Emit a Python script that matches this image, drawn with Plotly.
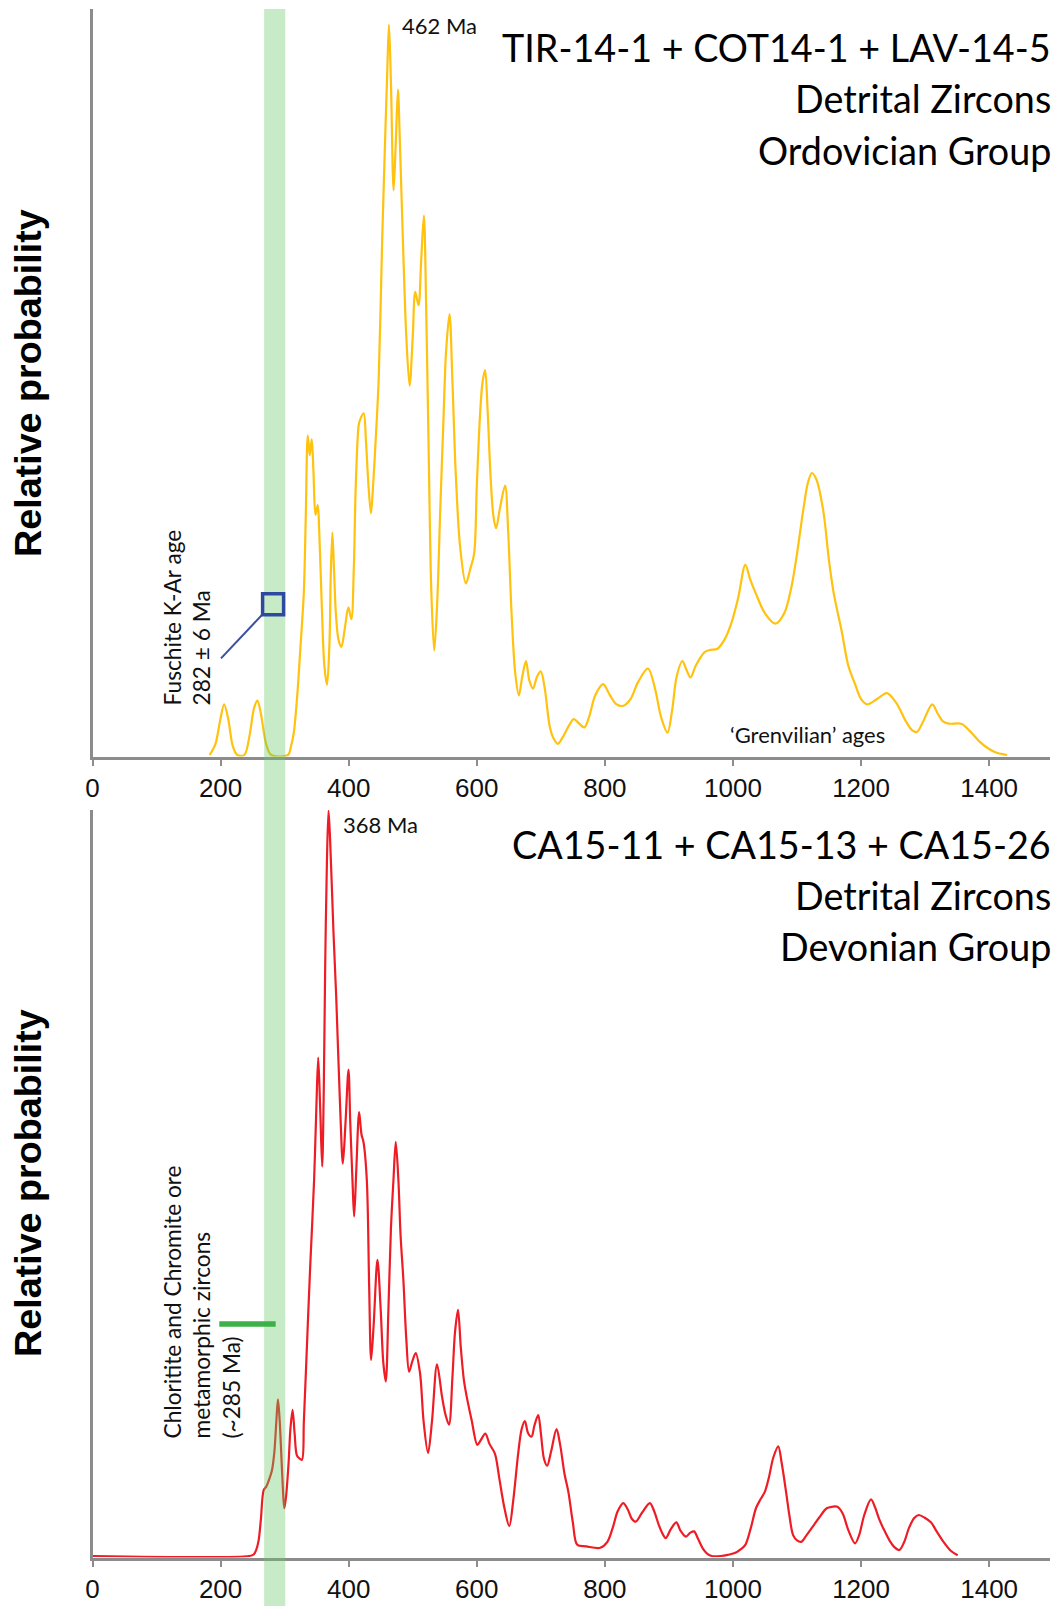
import plotly.graph_objects as go

# ---------------- data ----------------
# Ordovician Group detrital zircons: relative probability curve (age in Ma, height 0-100)
ord_age = [183, 192, 199, 205.5, 212, 219, 226, 237, 245, 252, 257.5, 263, 271, 279, 305,
           310, 314.3, 319.5, 324.7, 329.9, 333, 336.1, 339.2, 342.3, 345, 348.1, 351.7, 354,
           358, 362, 366.2, 370, 372, 374.5, 377, 380, 384, 388.6, 394, 399.5, 404.2, 408, 411,
           415.6, 418, 423.4, 427, 431, 434.8, 438, 442, 446.8, 452, 456, 460, 462.9, 466, 470.1,
           473.5, 476.9, 480, 485, 490, 495.1, 500, 503.9, 509.1, 513, 517.4, 521, 525, 529,
           533.5, 538, 543, 548, 552, 557.4, 562, 567, 574, 582.9, 590, 595.9, 600, 605.2, 609,
           613, 617, 621.8, 626, 630.1, 636, 644.2, 649, 654.3, 660, 665.7, 671, 676.8, 682,
           687.8, 694, 700, 706, 714, 720, 726.5, 735, 743, 751.4, 760, 768, 775, 785, 797.2,
           808, 818, 828.7, 840, 852, 867.4, 878, 888, 897.8, 905, 912, 921, 927, 933.7, 942,
           955.8, 965, 975.1, 987, 997.2, 1008, 1019.3, 1027, 1035.9, 1050, 1066.3, 1080, 1091.2,
           1100, 1110, 1117, 1123.2, 1130, 1140.9, 1150, 1157.5, 1170, 1180, 1190.6, 1200, 1210,
           1225, 1240.3, 1255, 1270, 1280, 1287.3, 1297, 1311.1, 1320, 1328, 1337, 1356.4, 1370,
           1385, 1400, 1411.6, 1428]
ord_prob = [0, 1.5, 4.5, 6.8, 4.8, 1.2, 0, 0, 2.5, 6.2, 7.3, 5.5, 1.5, 0, 0,
            1.2, 3, 7.8, 14.5, 21.7, 32, 42.8, 40.2, 42.3, 38, 32.2, 33.5, 30,
            20, 12, 9.4, 15, 24, 29.8, 25, 19, 15.5, 14.5, 17, 19.8, 18.2, 25, 36,
            44.2, 45, 45.8, 42, 36, 32.4, 36, 42, 50.3, 68, 80, 91, 97.9, 90, 75.7,
            82, 89.2, 82, 68, 56, 49.5, 56, 62.1, 60.3, 66, 72.3, 60, 40, 22,
            14.0, 20, 33, 45, 54, 59.1, 50, 38, 27.9, 23.0, 25, 27.0, 36, 45.8, 50,
            51.6, 46, 36.9, 32, 30.4, 33, 36.1, 30, 19.0, 11, 8.0, 10.5, 12.6, 10,
            8.9, 10.5, 11.2, 9, 3.8, 2.2, 1.5, 2.5, 3.8, 4.8, 4.2, 3.7, 5, 8, 9.5,
            8, 6.8, 6.6, 7.5, 9.8, 11.6, 9, 5, 3.0, 6, 10.5, 12.6, 11.5, 10.4, 12,
            13.8, 14.1, 14.2, 15.5, 17.6, 21, 25.5, 23.5, 21.6, 19, 17.6, 19, 22.5,
            27, 33, 36.5, 37.8, 37, 32.8, 26, 21.6, 16.5, 12, 9.5, 7.5, 6.8,
            7.5, 8.3, 7, 4.5, 3.3, 3.1, 4.5, 6.8, 5.5, 4.5, 4.2, 4.2, 3.2,
            1.8, 0.8, 0.3, 0]

# Devonian Group detrital zircons
dev_age = [0, 245, 251.6, 255.5, 259.4, 263, 267.2, 271.3, 276, 280.2, 284, 287, 289.5, 292,
           294.2, 297, 299.4, 302, 306.1, 309, 312.4, 315.5, 319.1, 322.8, 327, 330, 335.8,
           339.9, 346, 349.5, 352.4, 355.5, 358.6, 361, 363.3, 366, 368.5, 371, 376.3, 380.5,
           386.7, 390.9, 395, 399.7, 402.5, 405.9, 408.5, 412, 416.3, 420, 423.1, 428.3, 432,
           435, 439, 444.9, 450, 454, 457.9, 462, 466, 469.9, 473.5, 477.6, 481, 485.4, 490,
           494.3, 499, 504.7, 511.4, 517, 523.9, 530, 537.9, 545.7, 551, 556.6, 562, 566,
           570.7, 575, 580, 584.2, 592, 600.8, 606, 613.3, 620, 628.4, 635, 643, 650.7, 657,
           664.7, 670, 675.1, 680, 685.5, 690, 695.9, 700, 705, 709.9, 716, 724.5, 730, 737,
           743, 750, 756.9, 770.7, 792.8, 803.9, 812, 820, 828.7, 836, 842, 848.1, 858, 870.2,
           877, 884, 890, 895, 903, 911.6, 918, 926.5, 933, 939.2, 946, 953, 960, 966.9, 980.7,
           992, 1002.8, 1012, 1019.3, 1028, 1035.9, 1043, 1049.7, 1056, 1063, 1070.7, 1076,
           1082.9, 1088, 1093.9, 1100, 1106.6, 1115, 1124.3, 1135, 1146.4, 1155, 1163, 1171.3,
           1180, 1190.6, 1197, 1205, 1215.5, 1222, 1228, 1234.8, 1245, 1252, 1259.7, 1267,
           1275, 1283, 1290.1, 1300, 1309.4, 1318, 1328.7, 1340, 1350.9]
dev_prob = [0, 0, 0.2, 0.8, 2.1, 5, 8.8, 9.3, 10.3, 11.5, 14, 18, 21.0, 18.5,
            14.7, 9.5, 6.4, 7.8, 12.4, 17, 19.6, 16.5, 13.5, 13.1, 12.9, 18, 30.3,
            38.8, 50.4, 60, 66.8, 60, 52.2, 62, 79, 93, 99.9, 96, 83.5, 75,
            60, 52.6, 58, 65.2, 58, 50.4, 45.5, 52, 59.5, 56.5, 55.5, 50.4, 36,
            26.3, 31, 39.7, 33, 26, 23.4, 33, 44, 50.4, 55.5, 50.4, 43, 37, 29,
            24.7, 26, 27.2, 24.5, 18, 13.8, 18, 25.7, 21.4, 19, 17.6, 24, 30,
            33.0, 28, 23.5, 21.4, 18.2, 14.9, 15.5, 16.4, 15, 13.7, 10.5, 6.5, 4.0, 7.5,
            13.8, 17, 18.1, 16.5, 16.0, 17.5, 18.9, 16.5, 13, 12.1, 14, 17.0, 15, 11,
            8.6, 4.5, 1.5, 1.3, 1.1, 1.9, 3.7, 6, 7.1, 6.2, 5, 4.6, 5.8, 7.1,
            6, 4.2, 3, 2.4, 3.6, 4.5, 3.4, 2.6, 3.1, 3.3, 2.2, 1.0, 0.3, 0, 0,
            0.15, 0.4, 0.9, 1.5, 3.8, 6.4, 7.6, 8.6, 10.5, 13.2, 14.7, 12.5,
            8.6, 5.5, 2.8, 2.1, 1.9, 2.8, 3.9, 5.2, 6.4, 6.6, 6.6, 5.7,
            3.5, 1.7, 2.8, 5.5, 7.6, 6.5, 5, 3.7, 2, 1.2, 0.8, 1.8,
            3.8, 5.1, 5.5, 5.1, 4.5, 3.3, 1.9, 0.7, 0.1]

tick_vals = [0, 200, 400, 600, 800, 1000, 1200, 1400]
tick_labels = ["0", "200", "400", "600", "800", "1000", "1200", "1400"]

# Age markers
band_range = [268, 301]          # shaded age band (Ma)
fuschite_age = 282               # Fuschite K-Ar age (Ma)
fuschite_level = 20.2
ord_peak = 462
dev_peak = 368
metamorphic_bar = [198, 286]     # Chloritite/Chromite metamorphic zircons
metamorphic_level = 31.1

# ---------------- figure ----------------
W, H = 1057, 1606
AXIS_GREY = "#8c8c8c"
SANS = "Lato, 'Open Sans', sans-serif"
ARIAL = "'Liberation Sans', Arial, sans-serif"


def px_x(x):
    return x / W


def px_y(y):
    return 1 - y / H


fig = go.Figure()
fig.add_trace(go.Scatter(x=ord_age, y=ord_prob, mode="lines",
                         line=dict(color="#FFC20E", width=2.2, shape="spline", smoothing=0.9),
                         xaxis="x", yaxis="y", hoverinfo="skip"))
fig.add_trace(go.Scatter(x=dev_age, y=dev_prob, mode="lines",
                         line=dict(color="#EE1C25", width=2.2, shape="spline", smoothing=0.9),
                         xaxis="x2", yaxis="y2", hoverinfo="skip"))

x_domain = [px_x(92.5), px_x(1050)]
common_x = dict(range=[0, 1495], domain=x_domain, showline=True, linecolor=AXIS_GREY,
                linewidth=2.5, ticks="outside", ticklen=7, tickwidth=2, tickcolor=AXIS_GREY,
                tickvals=tick_vals, ticktext=tick_labels, showgrid=False, zeroline=False,
                tickfont=dict(family=ARIAL, size=26, color="#111111"), ticklabelstandoff=0,
                automargin=False, fixedrange=True)
common_y = dict(range=[-0.2, 100], showline=True, linecolor=AXIS_GREY, linewidth=2.5,
                showticklabels=False, ticks="", showgrid=False, zeroline=False,
                automargin=False, fixedrange=True)

fig.update_layout(
    width=W, height=H,
    margin=dict(l=0, r=0, t=0, b=0, autoexpand=False),
    paper_bgcolor="white", plot_bgcolor="white",
    showlegend=False,
    xaxis=dict(anchor="y", **common_x),
    yaxis=dict(anchor="x", domain=[px_y(756.5), px_y(9)], **common_y),
    xaxis2=dict(anchor="y2", **common_x),
    yaxis2=dict(anchor="x2", domain=[px_y(1557.5), px_y(810)], **common_y),
)

shapes = [
    # shaded band crossing both panels
    dict(type="rect", xref="x", yref="paper", x0=band_range[0], x1=band_range[1],
         y0=0, y1=px_y(9), fillcolor="rgba(100,200,100,0.37)", line=dict(width=0),
         layer="above"),
    # leader line to the Fuschite age marker
    dict(type="line", xref="x", yref="y", x0=200.6, y0=12.96, x1=267, y1=19.0,
         line=dict(color="#3A4FA0", width=2), layer="above"),
    # Fuschite K-Ar age marker
    dict(type="rect", xref="x", yref="y", xsizemode="pixel", ysizemode="pixel",
         xanchor=fuschite_age, yanchor=fuschite_level, x0=-10.5, x1=10.5, y0=-10.5, y1=10.5,
         line=dict(color="#2E4A9E", width=3.5), fillcolor="rgba(0,0,0,0)", layer="above"),
    # metamorphic zircon age bar
    dict(type="line", xref="x2", yref="y2", x0=metamorphic_bar[0], x1=metamorphic_bar[1],
         y0=metamorphic_level, y1=metamorphic_level,
         line=dict(color="#3DB049", width=5.5), layer="above"),
]
fig.update_layout(shapes=shapes)

annotations = []
# y-axis titles
for yc in (383, 1183):
    annotations.append(dict(text="Relative probability", xref="paper", yref="paper",
                            x=px_x(28), y=px_y(yc), xanchor="center", yanchor="middle",
                            textangle=-90, showarrow=False,
                            font=dict(family=ARIAL, size=37.7, color="black", weight="bold")))

# panel titles
title_font = dict(family=SANS, size=37.7, color="black")
for text, yc in [("TIR-14-1 + COT14-1 + LAV-14-5", 47.5), ("Detrital Zircons", 98.5),
                 ("Ordovician Group", 150.5), ("CA15-11 + CA15-13 + CA15-26", 844),
                 ("Detrital Zircons", 895), ("Devonian Group", 946)]:
    annotations.append(dict(text=text, xref="paper", yref="paper", x=px_x(1053),
                            y=px_y(yc), xanchor="right", yanchor="middle",
                            showarrow=False, font=title_font))

small_font = dict(family=SANS, size=22, color="#111111")
rot_font = dict(family=SANS, size=22.7, color="#111111")
annotations += [
    dict(text=f"{ord_peak} Ma", xref="x", yref="y", x=480, y=97.85, xanchor="left",
         yanchor="middle", showarrow=False, font=small_font),
    dict(text=f"{dev_peak} Ma", xref="x2", yref="y2", x=388, y=98.05, xanchor="left",
         yanchor="middle", showarrow=False, font=small_font),
    dict(text="‘Grenvilian’ ages", xref="x", yref="y", x=1115.6, y=2.7, xanchor="center",
         yanchor="middle", showarrow=False, font=small_font),
    dict(text=f"Fuschite K-Ar age<br>{fuschite_age} ± 6 Ma", xref="paper", yref="paper",
         x=px_x(186.5), y=px_y(708), xanchor="center", yanchor="bottom", textangle=-90,
         align="left", showarrow=False, font=rot_font),
    dict(text="Chloritite and Chromite ore<br>metamorphic zircons<br>(~285 Ma)",
         xref="paper", yref="paper", x=px_x(201), y=px_y(1441), xanchor="center",
         yanchor="bottom", textangle=-90, align="left", showarrow=False, font=rot_font),
]
fig.update_layout(annotations=annotations)

fig.write_html("out.html")
